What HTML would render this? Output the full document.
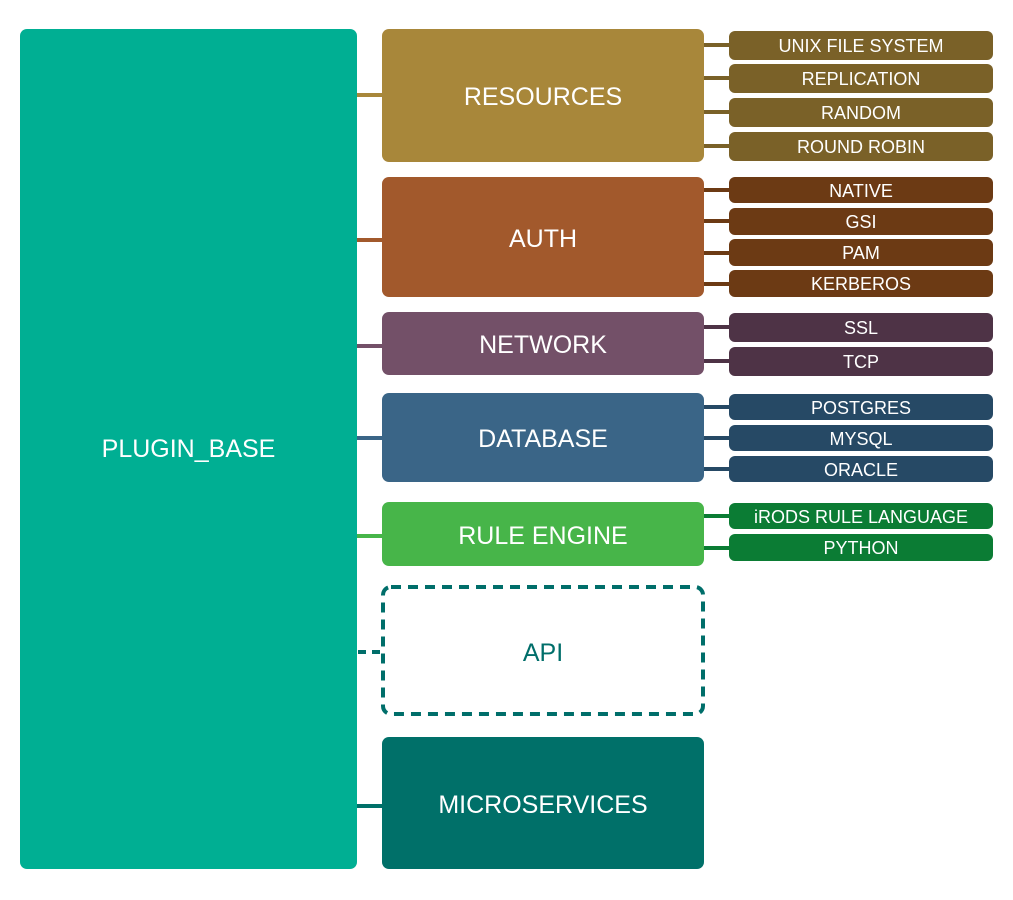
<!DOCTYPE html>
<html><head><style>
body{margin:0;width:1013px;height:900px;background:#fff;position:relative;font-family:"Liberation Sans",sans-serif;overflow:hidden}
div{position:absolute;box-sizing:border-box;display:flex;align-items:center;justify-content:center;color:#fff}
.m{left:382px;width:322px;border-radius:7px;font-size:25px;padding-top:4px}
.s{left:729px;width:264px;border-radius:6px;font-size:18px;padding-top:2px}
.l{height:4px;padding:0}
</style></head><body>
<div style="left:20px;top:29px;width:337px;height:840px;background:#00af93;border-radius:7px;font-size:25px;padding-top:0">PLUGIN_BASE</div>

<div class="l" style="left:357px;top:93px;width:25px;background:#a8873a"></div>
<div class="m" style="top:29px;height:133px;background:#a8873a">RESOURCES</div>
<div class="l" style="left:704px;top:43px;width:25px;background:#7a6128"></div>
<div class="l" style="left:704px;top:76px;width:25px;background:#7a6128"></div>
<div class="l" style="left:704px;top:110px;width:25px;background:#7a6128"></div>
<div class="l" style="left:704px;top:144px;width:25px;background:#7a6128"></div>
<div class="s" style="top:31px;height:29px;background:#7a6128">UNIX FILE SYSTEM</div>
<div class="s" style="top:64px;height:29px;background:#7a6128">REPLICATION</div>
<div class="s" style="top:98px;height:29px;background:#7a6128">RANDOM</div>
<div class="s" style="top:132px;height:29px;background:#7a6128">ROUND ROBIN</div>

<div class="l" style="left:357px;top:238px;width:25px;background:#a2592c"></div>
<div class="m" style="top:177px;height:120px;background:#a2592c">AUTH</div>
<div class="l" style="left:704px;top:188px;width:25px;background:#6c3a14"></div>
<div class="l" style="left:704px;top:219px;width:25px;background:#6c3a14"></div>
<div class="l" style="left:704px;top:251px;width:25px;background:#6c3a14"></div>
<div class="l" style="left:704px;top:282px;width:25px;background:#6c3a14"></div>
<div class="s" style="top:177px;height:26px;background:#6c3a14">NATIVE</div>
<div class="s" style="top:208px;height:27px;background:#6c3a14">GSI</div>
<div class="s" style="top:239px;height:27px;background:#6c3a14">PAM</div>
<div class="s" style="top:270px;height:27px;background:#6c3a14">KERBEROS</div>

<div class="l" style="left:357px;top:344px;width:25px;background:#735068"></div>
<div class="m" style="top:312px;height:63px;background:#735068">NETWORK</div>
<div class="l" style="left:704px;top:325px;width:25px;background:#4e3346"></div>
<div class="l" style="left:704px;top:359px;width:25px;background:#4e3346"></div>
<div class="s" style="top:313px;height:29px;background:#4e3346">SSL</div>
<div class="s" style="top:347px;height:29px;background:#4e3346">TCP</div>

<div class="l" style="left:357px;top:436px;width:25px;background:#3a6587"></div>
<div class="m" style="top:393px;height:89px;background:#3a6587">DATABASE</div>
<div class="l" style="left:704px;top:405px;width:25px;background:#264965"></div>
<div class="l" style="left:704px;top:436px;width:25px;background:#264965"></div>
<div class="l" style="left:704px;top:467px;width:25px;background:#264965"></div>
<div class="s" style="top:394px;height:26px;background:#264965">POSTGRES</div>
<div class="s" style="top:425px;height:26px;background:#264965">MYSQL</div>
<div class="s" style="top:456px;height:26px;background:#264965">ORACLE</div>

<div class="l" style="left:357px;top:534px;width:25px;background:#47b549"></div>
<div class="m" style="top:502px;height:64px;background:#47b549">RULE ENGINE</div>
<div class="l" style="left:704px;top:514px;width:25px;background:#0b7c34"></div>
<div class="l" style="left:704px;top:546px;width:25px;background:#0b7c34"></div>
<div class="s" style="top:503px;height:26px;background:#0b7c34">iRODS RULE LANGUAGE</div>
<div class="s" style="top:534px;height:27px;background:#0b7c34">PYTHON</div>

<svg style="position:absolute;left:0;top:0" width="1013" height="900">
<line x1="358" y1="652" x2="384" y2="652" stroke="#006e6a" stroke-width="4" stroke-dasharray="8,6"/>
<rect x="383" y="587" width="320" height="127" rx="8" fill="#fff" stroke="#006e6a" stroke-width="4" stroke-dasharray="10,7"/>
</svg>
<div class="m" style="top:586px;height:130px;color:#006e6a">API</div>

<div class="l" style="left:357px;top:804px;width:25px;background:#007069"></div>
<div class="m" style="top:737px;height:132px;background:#007069">MICROSERVICES</div>
</body></html>
